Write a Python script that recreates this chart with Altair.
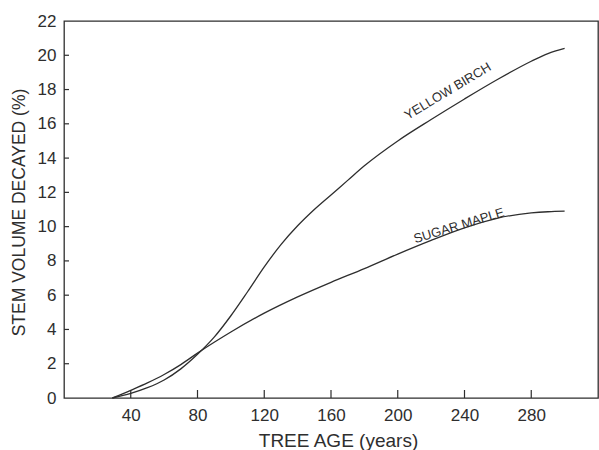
import altair as alt
import pandas as pd

# Tree age (years) and percentage of stem volume decayed
birch_age = [29, 40, 50, 60, 70, 80, 90, 100, 110, 120, 130, 140, 150, 160, 170, 180, 200, 220, 240, 260, 280, 290, 300]
birch_val = [0.0, 0.27, 0.6, 1.05, 1.7, 2.55, 3.55, 4.8, 6.2, 7.65, 8.95, 10.05, 11.0, 11.85, 12.7, 13.55, 15.0, 16.25, 17.45, 18.6, 19.65, 20.1, 20.4]

maple_age = [29, 40, 50, 60, 70, 80, 90, 100, 120, 140, 160, 180, 200, 220, 240, 260, 280, 290, 300]
maple_val = [0.0, 0.45, 0.88, 1.37, 1.95, 2.62, 3.25, 3.85, 4.95, 5.9, 6.75, 7.55, 8.4, 9.2, 9.93, 10.5, 10.8, 10.87, 10.9]

# Curve labels
label_text = ["YELLOW BIRCH", "SUGAR MAPLE"]
label_age = [230, 236.7]
label_val = [17.9, 10.05]
label_angle = [329, 343]

x_ticks = [40, 80, 120, 160, 200, 240, 280]
y_ticks = [0, 2, 4, 6, 8, 10, 12, 14, 16, 18, 20, 22]
y_tick_marks = [2, 4, 6, 8, 10, 12, 14, 16, 18, 20]

INK = "#2e2e2e"
FONT = "Liberation Sans"

curves = pd.DataFrame(
    {"age": birch_age + maple_age,
     "pct": birch_val + maple_val,
     "species": ["Yellow birch"] * len(birch_age) + ["Sugar maple"] * len(maple_age)}
)
labels = pd.DataFrame({"text": label_text, "age": label_age, "pct": label_val, "ang": label_angle})

xs = alt.Scale(domain=[0, 320], nice=False, zero=False)
ys = alt.Scale(domain=[0, 22], nice=False)

# One axis definition per direction, shared by every layer so they merge cleanly
x_axis = alt.Axis(
    values=x_ticks, title="TREE AGE (years)", grid=False, domain=False, ticks=False,
    labelFont=FONT, labelFontSize=17, labelColor=INK, labelPadding=9,
    labelOverlap=False,
    titleFont=FONT, titleFontSize=19, titleFontWeight="normal", titleColor=INK,
    titleX=274, titleY=48, titleBaseline="alphabetic", titleAlign="center")
y_axis = alt.Axis(
    values=y_ticks, title="STEM VOLUME DECAYED (%)", grid=False, domain=False, ticks=False,
    labelFont=FONT, labelFontSize=17, labelColor=INK, labelPadding=8,
    labelOverlap=False, labelBound=False, labelFlush=False,
    titleFont=FONT, titleFontSize=17.5, titleFontWeight="normal", titleColor=INK,
    titleAngle=270, titleX=-44.5, titleY=191, titleBaseline="middle", titleAlign="center")

X = lambda: alt.X("age:Q", scale=xs, axis=x_axis)
Y = lambda: alt.Y("pct:Q", scale=ys, axis=y_axis)

lines = alt.Chart(curves).mark_line(
    color=INK, strokeWidth=1.3, interpolate="monotone"
).encode(x=X(), y=Y(), detail="species:N")

text = alt.Chart(labels).mark_text(
    font=FONT, fontSize=13, color=INK, align="center", baseline="middle"
).encode(
    x=X(), y=Y(),
    text="text:N",
    angle=alt.Angle("ang:Q", scale=None),
)

# Inward tick marks on the bottom axis
xtick_marks = alt.Chart(pd.DataFrame({"age": x_ticks})).mark_rule(
    color=INK, strokeWidth=1.2
).encode(x=X(), y=alt.value(377), y2=alt.value(369))

# Inward tick marks on the left axis
ytick_marks = alt.Chart(pd.DataFrame({"pct": y_tick_marks})).mark_rule(
    color=INK, strokeWidth=1.2
).encode(y=Y(), x=alt.value(0), x2=alt.value(5))

chart = alt.layer(lines, text, xtick_marks, ytick_marks).properties(
    width=534,
    height=377,
    autosize=alt.AutoSizeParams(type="none"),
    padding={"left": 64, "top": 21, "right": 1, "bottom": 52},
    background="white",
).configure_view(
    stroke=INK, strokeWidth=1.3
)

chart.save("out.html", embed_options={"renderer": "svg", "actions": False})
